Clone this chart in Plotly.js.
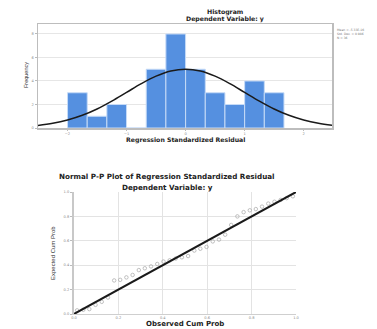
<!DOCTYPE html>
<html>
<head>
<meta charset="utf-8">
<script src="https://cdn.plot.ly/plotly-3.0.1.min.js"></script>
<style>html,body{margin:0;padding:0;background:#fff;}#chart{width:377px;height:329px;}</style>
</head>
<body>
<div id="chart"></div>
<script>
// Histogram data
const binCenters = [-1.833, -1.5, -1.167, -0.833, -0.5, -0.167, 0.167, 0.5, 0.833, 1.167, 1.5];
const binCounts  = [3, 1, 2, 0, 5, 8, 5, 3, 2, 4, 3];
const binWidth = 1/3;
// Normal curve
const curveX = [-2.5, -2.25, -2, -1.75, -1.5, -1.25, -1, -0.75, -0.5, -0.25, 0, 0.25, 0.5, 0.75, 1, 1.25, 1.5, 1.75, 2, 2.25, 2.5];
const curveY = [0.22, 0.40, 0.68, 1.08, 1.62, 2.29, 3.03, 3.77, 4.41, 4.85, 5.0, 4.85, 4.41, 3.77, 3.03, 2.29, 1.62, 1.08, 0.68, 0.40, 0.22];
const histXTicks = [-2, -1, 0, 1, 2];
const histYTicks = [0, 2, 4, 6, 8];
const legendLines = ["Mean = -5.33E-16", "Std. Dev. = 0.986", "N = 36"];
// P-P plot data
const observedCum = [0.014,0.042,0.069,0.097,0.125,0.153,0.181,0.208,0.236,0.264,0.292,0.319,0.347,0.375,0.403,0.431,0.458,0.486,0.514,0.542,0.569,0.597,0.625,0.653,0.681,0.708,0.736,0.764,0.792,0.819,0.847,0.875,0.903,0.931,0.958,0.986];
const expectedCum = [0.03,0.035,0.04,0.075,0.10,0.135,0.275,0.28,0.30,0.32,0.36,0.375,0.39,0.41,0.43,0.44,0.455,0.465,0.475,0.52,0.535,0.55,0.595,0.61,0.65,0.73,0.80,0.835,0.85,0.86,0.88,0.905,0.92,0.935,0.95,0.965];
const diagX = [0, 1];
const ppTicks = [0, 0.2, 0.4, 0.6, 0.8, 1.0];

const W = 377, H = 329;
const px = x => x / W;
const py = y => 1 - y / H;

const FAM = "DejaVu Sans, Verdana, sans-serif";
const tickFont = {family: FAM, size: 3.6, color: "#8a8a8a"};
const topTitle = {family: FAM, size: 6.2, color: "#222", weight: "bold"};
const botTitle = {family: FAM, size: 7.2, color: "#222", weight: "bold"};

const traces = [
  {type: "bar", x: binCenters, y: binCounts, width: binWidth, xaxis: "x", yaxis: "y",
   marker: {color: "#5590e0", line: {color: "#c6dbf7", width: 1}}, hoverinfo: "skip"},
  {type: "scatter", mode: "lines", x: curveX, y: curveY, xaxis: "x", yaxis: "y",
   line: {color: "#1a1a1a", width: 1.5, shape: "spline"}, hoverinfo: "skip"},
  {type: "scatter", mode: "markers", x: observedCum, y: expectedCum, xaxis: "x2", yaxis: "y2",
   marker: {symbol: "circle-open", size: 3.5, color: "#b0b0b0", line: {width: 0.8}}, hoverinfo: "skip"},
  {type: "scatter", mode: "lines", x: diagX, y: diagX, xaxis: "x2", yaxis: "y2",
   line: {color: "#1a1a1a", width: 2}, hoverinfo: "skip"}
];

const ann = (text, x, y, font, extra) => Object.assign({text, x: px(x), y: py(y), xref: "paper", yref: "paper", showarrow: false, yanchor: "middle", font}, extra || {});

const layout = {
  width: W, height: H,
  margin: {l: 0, r: 0, t: 0, b: 0},
  paper_bgcolor: "#fff", plot_bgcolor: "#fff",
  showlegend: false, bargap: 0,
  xaxis: {domain: [px(38), px(332)], range: [-2.5, 2.48], tickvals: histXTicks, tickfont: tickFont,
          showgrid: false, zeroline: false, showline: true, linecolor: "#bdbdbd", linewidth: 1.5, mirror: true,
          ticks: "outside", ticklen: 1.5, tickcolor: "#bbb", anchor: "y"},
  yaxis: {domain: [py(128), py(24)], range: [0, 8.85], tickvals: histYTicks, tickfont: tickFont,
          showgrid: true, gridcolor: "#e6e6e6", zeroline: false, showline: true, linecolor: "#bdbdbd", linewidth: 1.5, mirror: true,
          ticks: "outside", ticklen: 2, tickcolor: "#bbb", anchor: "x"},
  xaxis2: {domain: [px(74), px(296)], range: [0, 1], tickvals: ppTicks, tickformat: ".1f", tickfont: tickFont,
           showgrid: true, gridcolor: "#e3e3e3", zeroline: false, showline: true, linecolor: "#cfcfcf", linewidth: 1,
           ticks: "", anchor: "y2"},
  yaxis2: {domain: [py(314), py(192)], range: [0, 1], tickvals: ppTicks, tickformat: ".1f", tickfont: tickFont,
           showgrid: true, gridcolor: "#e3e3e3", zeroline: false, showline: true, linecolor: "#c8c8c8", linewidth: 2,
           ticks: "outside", ticklen: 2, tickcolor: "#bbb", anchor: "x2"},
  annotations: [
    ann("Histogram", 225, 12, topTitle),
    ann("Dependent Variable: y", 225, 19.5, topTitle),
    ann("Regression Standardized Residual", 185, 139.5, topTitle),
    ann("Frequency", 21, 75, {family: "Liberation Sans Narrow, Liberation Sans, sans-serif", size: 5.5, color: "#333"}, {textangle: -90}),
    ann(legendLines.join("<br>"), 335, 34, {family: FAM, size: 3, color: "#777"}, {xanchor: "left", align: "left"}),
    ann("Normal P-P Plot of Regression Standardized Residual", 167, 176, botTitle),
    ann("Dependent Variable: y", 167, 187, botTitle),
    ann("Expected Cum Prob", 48, 253, {family: "Liberation Sans Narrow, Liberation Sans, sans-serif", size: 6, color: "#333"}, {textangle: -90}),
    ann("Observed Cum Prob", 185, 329, {family: FAM, size: 7, color: "#222", weight: "bold"}, {yanchor: "bottom", borderpad: 0})
  ]
};

Plotly.newPlot("chart", traces, layout, {staticPlot: true, displayModeBar: false});
</script>
</body>
</html>
